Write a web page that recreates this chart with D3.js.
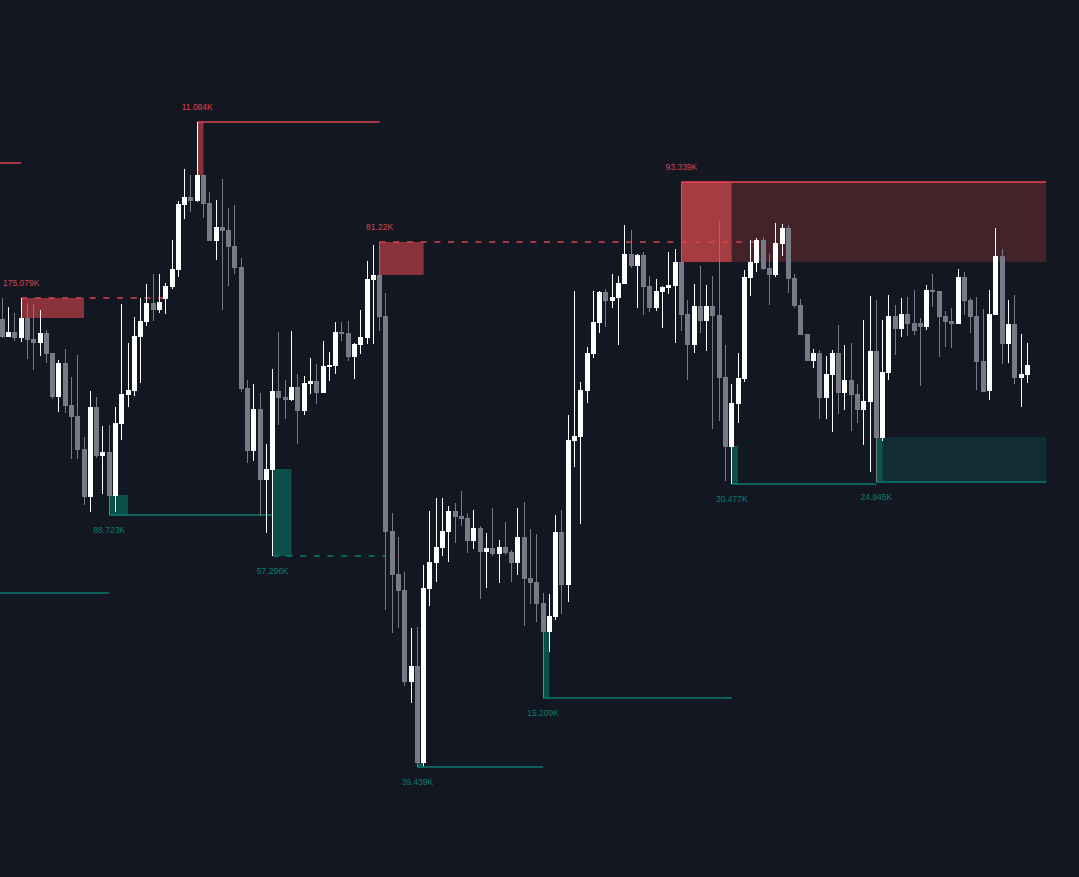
<!DOCTYPE html>
<html>
<head>
<meta charset="utf-8">
<script src="https://cdn.jsdelivr.net/npm/d3@7"></script>
<style>
  html, body { margin: 0; padding: 0; background: #131722; overflow: hidden; }
  svg { display: block; }
</style>
</head>
<body>
<svg id="chart" width="1079" height="877"></svg>
<script>
// ---- DATA (price units) ----
const open  = [681,663,668,662,682,661,657,667,647,603,637,595,584,551,503,593,544,548,504,576,605,609,663,678,697,690,701,713,730,795,803,799,825,797,759,773,770,754,733,612,549,591,520,530,609,603,600,613,589,616,619,607,633,634,668,667,643,655,662,720,725,684,469,426,410,318,334,237,411,437,452,468,489,484,482,459,472,448,452,446,453,448,437,463,422,418,397,368,383,468,415,559,563,609,646,677,708,699,702,716,746,734,745,714,692,708,712,714,738,686,655,694,679,694,685,623,553,596,621,722,737,760,732,725,756,772,722,695,666,639,647,602,625,647,607,620,606,590,598,649,562,627,684,671,686,677,677,673,710,709,684,679,676,723,700,684,639,609,685,744,656,676,622,625];
const high  = [702,693,687,702,697,696,690,670,647,640,651,623,645,563,609,603,574,575,593,696,657,683,702,716,726,726,717,760,799,831,825,878,825,808,800,821,792,795,742,620,616,607,556,631,668,620,669,626,624,642,636,659,648,678,678,679,657,690,739,755,758,707,487,463,428,372,373,435,489,502,502,494,497,509,487,490,474,467,492,460,478,450,492,498,471,466,407,406,485,490,585,709,618,653,709,709,711,726,724,775,770,746,748,724,721,714,748,751,818,700,716,734,715,724,779,655,616,647,730,760,762,763,746,777,776,775,726,701,666,651,650,644,650,675,655,657,616,680,704,700,680,705,695,702,703,710,682,715,726,709,689,692,731,728,702,703,691,710,772,751,700,705,666,657];
const low   = [662,663,659,658,641,630,644,637,601,588,587,541,541,495,488,542,506,485,488,560,593,604,617,674,679,687,686,711,723,781,788,798,782,759,740,690,714,726,608,537,539,484,467,444,575,581,599,556,585,606,596,607,619,626,659,639,621,646,656,656,669,390,367,372,314,297,233,234,394,418,444,438,457,474,447,451,401,412,444,417,445,418,425,374,396,378,302,348,380,386,398,533,476,597,642,667,673,692,655,716,732,692,685,688,689,672,706,657,669,620,647,667,649,571,579,519,516,577,618,704,728,730,695,723,744,707,692,665,639,632,581,581,568,586,590,569,577,555,528,518,559,620,645,663,664,665,614,670,693,643,653,652,676,685,667,610,608,600,685,636,637,616,593,617];
const close = [663,668,662,682,660,657,667,646,603,637,594,583,550,503,593,544,548,504,577,606,610,664,679,697,690,698,714,731,796,803,799,825,796,759,773,769,753,732,611,549,591,520,531,609,602,600,613,589,617,619,607,634,635,668,666,643,656,663,721,725,683,468,425,409,318,334,237,412,438,453,469,489,483,481,459,472,448,452,446,453,447,437,463,421,417,396,368,384,468,415,560,564,610,647,678,708,699,703,717,746,734,745,713,692,709,713,715,738,685,655,694,679,694,684,622,553,597,622,723,738,760,731,725,757,772,721,694,665,639,647,602,626,647,607,620,605,590,599,649,562,628,684,671,686,676,669,673,710,708,683,678,676,723,699,683,638,608,686,744,656,676,622,626,635];

// order-block zones: candle index where they start / end, price top & bottom, volume label
const supplyStart  = [3, 31, 60, 108];
const supplyEnd    = [13, 32, 67, 116];
const supplyTop    = [702, 878, 758, 818];
const supplyBottom = [682, 825, 725, 738];
const supplyLabel  = ["175.079K", "11.084K", "81.22K", "93.339K"];
const supplyLineTo = [26, 60, 120, 166];
const supplyLineDashed = [true, false, true, false];
const supplyExtendTo = [null, null, null, 166];

const demandStart  = [17, 43, 66, 86, 116, 139];
const demandEnd    = [20, 46, 67, 87, 117, 140];
const demandTop    = [505, 531, 237, 368, 554, 563];
const demandBottom = [485, 444, 233, 302, 516, 518];
const demandLabel  = ["88.723K", "57.296K", "39.439K", "15.209K", "30.477K", "24.945K"];
const demandLineTo = [43, 61, 86, 116, 139, 166];
const demandLineDashed = [false, true, false, false, false, false];
const demandExtendTo = [null, null, null, null, null, 166];

// older levels entering from the left edge
const oldLevelPrice = [837, 407];
const oldLevelFrom  = [-4, -4];
const oldLevelTo    = [3, 17];
const oldLevelSide  = ["supply", "demand"];

// ---- CHART ----
const svg = d3.select("#chart");
const W = 1079, H = 877;
svg.append("rect").attr("width", W).attr("height", H).attr("fill", "#131722");

const x = d3.scaleLinear().domain([0, open.length - 1]).range([2.3, 1027.3]);
const y = d3.scaleLinear().domain([1000, 123]).range([0, H]);
const bodyW = 5;

const C = {
  up: "#ffffff", down: "#787b86",
  supplyFill: "#8a323a", supplyActive: "#a43c41", supplyExt: "#432329",
  supplyLine: "#d9434c", supplyTopLine: "#f0464f", supplyText: "#d9444d",
  demandFill: "#0a4f4a", demandActive: "#0b544e", demandExt: "#112c34",
  demandLine: "#0a7d6e", demandText: "#0b7d6f"
};

const gZones = svg.append("g");
const gLines = svg.append("g");
const gCandles = svg.append("g");
const gText = svg.append("g");

// old levels
oldLevelPrice.forEach((p, i) => {
  gLines.append("line")
    .attr("x1", x(oldLevelFrom[i])).attr("x2", x(oldLevelTo[i]))
    .attr("y1", y(p)).attr("y2", y(p))
    .attr("stroke", oldLevelSide[i] === "supply" ? C.supplyLine : C.demandLine)
    .attr("stroke-width", 1.5);
});

// supply zones
supplyStart.forEach((s, i) => {
  const active = supplyExtendTo[i] !== null;
  if (active) {
    gZones.append("rect")
      .attr("x", x(supplyEnd[i])).attr("width", x(supplyExtendTo[i]) - x(supplyEnd[i]))
      .attr("y", y(supplyTop[i])).attr("height", y(supplyBottom[i]) - y(supplyTop[i]))
      .attr("fill", C.supplyExt);
  }
  gZones.append("rect")
    .attr("x", x(s)).attr("width", x(supplyEnd[i]) - x(s))
    .attr("y", y(supplyTop[i])).attr("height", y(supplyBottom[i]) - y(supplyTop[i]))
    .attr("fill", active ? C.supplyActive : C.supplyFill);
  gLines.append("line")
    .attr("x1", x(s)).attr("x2", x(supplyLineTo[i]))
    .attr("y1", y(supplyTop[i])).attr("y2", y(supplyTop[i]))
    .attr("stroke", active ? C.supplyTopLine : C.supplyLine)
    .attr("stroke-width", supplyLineDashed[i] ? 1.3 : 1.5)
    .attr("stroke-dasharray", supplyLineDashed[i] ? "6,7.7" : null);
  gText.append("text")
    .attr("x", x(s)).attr("y", y(supplyTop[i]) - 12)
    .attr("text-anchor", "middle")
    .attr("font-family", "'Liberation Sans', Arial, sans-serif")
    .attr("font-size", 8.5)
    .attr("fill", C.supplyText)
    .text(supplyLabel[i]);
});

// demand zones
demandStart.forEach((s, i) => {
  const active = demandExtendTo[i] !== null;
  if (active) {
    gZones.append("rect")
      .attr("x", x(demandEnd[i])).attr("width", x(demandExtendTo[i]) - x(demandEnd[i]))
      .attr("y", y(demandTop[i])).attr("height", y(demandBottom[i]) - y(demandTop[i]))
      .attr("fill", C.demandExt);
  }
  gZones.append("rect")
    .attr("x", x(s)).attr("width", x(demandEnd[i]) - x(s))
    .attr("y", y(demandTop[i])).attr("height", y(demandBottom[i]) - y(demandTop[i]))
    .attr("fill", active ? C.demandActive : C.demandFill);
  gLines.append("line")
    .attr("x1", x(s)).attr("x2", x(demandLineTo[i]))
    .attr("y1", y(demandBottom[i])).attr("y2", y(demandBottom[i]))
    .attr("stroke", C.demandLine)
    .attr("stroke-width", demandLineDashed[i] ? 1.3 : 1.5)
    .attr("stroke-dasharray", demandLineDashed[i] ? "6,7.7" : null);
  gText.append("text")
    .attr("x", x(s)).attr("y", y(demandBottom[i]) + 18)
    .attr("text-anchor", "middle")
    .attr("font-family", "'Liberation Sans', Arial, sans-serif")
    .attr("font-size", 8.5)
    .attr("fill", C.demandText)
    .text(demandLabel[i]);
});

// candles (snapped to whole pixels for crisp bodies)
const data = open.map((o, i) => ({ i, o, h: high[i], l: low[i], c: close[i] }));
const left = d => Math.round(x(d.i) - bodyW / 2);
const cg = gCandles.selectAll("g.c").data(data).join("g").attr("class", "c");
cg.append("line")
  .attr("x1", d => left(d) + 2.5).attr("x2", d => left(d) + 2.5)
  .attr("y1", d => y(d.h)).attr("y2", d => y(d.l))
  .attr("stroke", d => d.c >= d.o ? C.up : C.down)
  .attr("stroke-width", 1);
cg.append("rect")
  .attr("x", d => left(d))
  .attr("width", bodyW)
  .attr("y", d => Math.round(y(Math.max(d.o, d.c))))
  .attr("height", d => Math.max(1, Math.round(Math.abs(y(d.o) - y(d.c)))))
  .attr("fill", d => d.c >= d.o ? C.up : C.down);
</script>
</body>
</html>
